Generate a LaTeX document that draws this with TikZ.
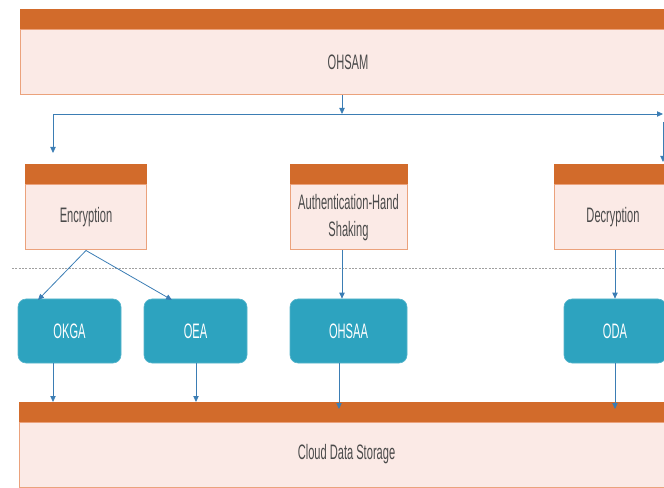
\documentclass[tikz,border=0pt]{standalone}
\usepackage{fontspec}
\setmainfont{Liberation Sans}[FakeStretch=0.53]
\usetikzlibrary{arrows.meta}
\definecolor{bandc}{HTML}{D26B2B}
\definecolor{pinkf}{HTML}{FBEAE6}
\definecolor{pinkb}{HTML}{EBA27C}
\definecolor{tealf}{HTML}{2DA3BF}
\definecolor{arrowc}{HTML}{3B7DB4}
\definecolor{txtc}{HTML}{4A4A4A}
\definecolor{dashc}{HTML}{A0A0A0}
\begin{document}
\begin{tikzpicture}[x=0.75pt,y=-0.75pt,
  pinkbox/.style={draw=pinkb, fill=pinkf, line width=0.75pt, inner sep=0pt,
    font=\fontsize{15.7}{20.25}\selectfont, text=txtc, align=center},
  tealbox/.style={draw=tealf!80!white, fill=tealf, line width=0.5pt, rounded corners=6pt,
    inner sep=0pt, minimum height=64*0.75pt,
    font=\fontsize{15.7}{20.25}\selectfont, text=white},
  bandfill/.style={fill=bandc},
  arr/.style={draw=arrowc, line width=0.6pt, -{Triangle[length=4.5pt,width=4pt]}},
  divider/.style={draw=dashc, line width=0.6pt, dash pattern=on 1.5pt off 1pt}
]
\useasboundingbox (0,0) rectangle (664,488);
\clip (0,0) rectangle (664,488);

% top box
\node[pinkbox, minimum width=656*0.75pt, minimum height=65*0.75pt] (ohsam) at (348,62.5) {OHSAM};
\fill[bandfill] (ohsam.north west) rectangle ([yshift=15pt]ohsam.north east);

% middle header boxes
\node[pinkbox, minimum width=121*0.75pt, minimum height=65*0.75pt] (enc) at (86,217.5) {Encryption};
\fill[bandfill] (enc.north west) rectangle ([yshift=15pt]enc.north east);
\node[pinkbox, minimum width=117*0.75pt, minimum height=65*0.75pt] (auth) at (348.5,217.5) {Authentication-Hand\\Shaking};
\fill[bandfill] (auth.north west) rectangle ([yshift=15pt]auth.north east);
\node[pinkbox, minimum width=118*0.75pt, minimum height=65*0.75pt] (dec) at (613,217.5) {Decryption};
\fill[bandfill] (dec.north west) rectangle ([yshift=15pt]dec.north east);

% divider
\draw[divider] (12,268) -- (670,268);

% teal boxes
\node[tealbox, minimum width=103*0.75pt] (okga) at (69.5,331) {OKGA};
\node[tealbox, minimum width=103*0.75pt] (oea) at (195.5,331) {OEA};
\node[tealbox, minimum width=117*0.75pt] (ohsaa) at (348.5,331) {OHSAA};
\node[tealbox, minimum width=102*0.75pt] (oda) at (615,331) {ODA};

% bottom box
\node[pinkbox, minimum width=655*0.75pt, minimum height=65*0.75pt] (cloud) at (346.5,454.5) {Cloud Data Storage};
\fill[bandfill] (cloud.north west) rectangle ([yshift=15pt]cloud.north east);

% coordinates
\coordinate (split) at (342,114);
\coordinate (lend) at (53,153);
\coordinate (rend) at (663,114);
\coordinate (rtop) at (663,122);
\coordinate (rbot) at (663,162);
\coordinate (okgain) at (38,300);
\coordinate (oeain) at (172,300);
\coordinate (c1) at (53,402);
\coordinate (c2) at (196,402);
\coordinate (c3) at (339,409);
\coordinate (c4) at (615,409);

% connectors
\draw[arr] (ohsam.south -| split) -- (split);
\draw[arr] (split) -- (rend);
\draw[arr] (split) -| (lend);
\draw[arr] (rtop) -- (rbot);
\draw[arr] (enc.south) -- (okgain);
\draw[arr] (enc.south) -- (oeain);
\draw[arr] (auth.south -| split) -- (ohsaa.north -| split);
\draw[arr] (dec.south -| oda.north) -- (oda.north);
\draw[arr] (okga.south -| c1) -- (c1);
\draw[arr] (oea.south -| c2) -- (c2);
\draw[arr] (ohsaa.south -| c3) -- (c3);
\draw[arr] (oda.south -| c4) -- (c4);
\end{tikzpicture}
\end{document}
